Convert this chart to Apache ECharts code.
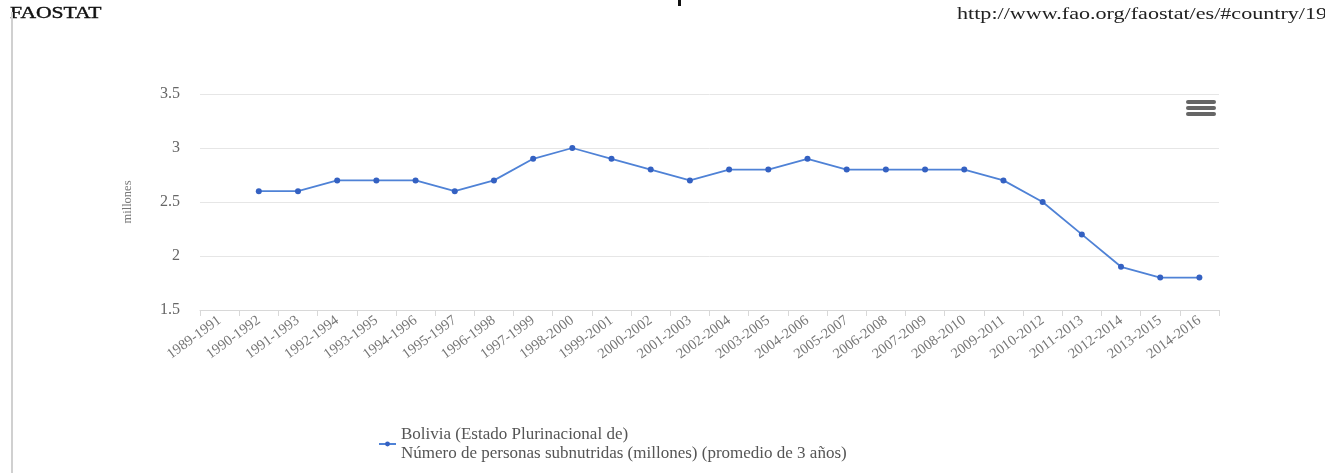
<!DOCTYPE html>
<html>
<head>
<meta charset="utf-8">
<script src="https://cdn.jsdelivr.net/npm/echarts@6/dist/echarts.min.js"></script>
<style>html,body{margin:0;padding:0;background:#fff;}#c{width:1325px;height:473px;}</style>
</head>
<body>
<div id="c"></div>
<script>
const categories = ['1989-1991','1990-1992','1991-1993','1992-1994','1993-1995','1994-1996','1995-1997','1996-1998','1997-1999','1998-2000','1999-2001','2000-2002','2001-2003','2002-2004','2003-2005','2004-2006','2005-2007','2006-2008','2007-2009','2008-2010','2009-2011','2010-2012','2011-2013','2012-2014','2013-2015','2014-2016'];
const values = [null,2.6,2.6,2.7,2.7,2.7,2.6,2.7,2.9,3.0,2.9,2.8,2.7,2.8,2.8,2.9,2.8,2.8,2.8,2.8,2.7,2.5,2.2,1.9,1.8,1.8];
const seriesName = 'Bolivia (Estado Plurinacional de)\nNúmero de personas subnutridas (millones) (promedio de 3 años)';
const yTicks = {min:1.5, max:3.5, interval:0.5};
const yName = 'millones';
const headerLeft = 'FAOSTAT';
const headerRight = 'http://www.fao.org/faostat/es/#country/19';

const serif = '"Liberation Serif", "DejaVu Serif", serif';
const chart = echarts.init(document.getElementById('c'), null, {renderer:'canvas'});
chart.setOption({
  backgroundColor:'#fff',
  animation:false,
  textStyle:{fontFamily:serif},
  grid:{left:200, right:106, top:94, bottom:163, containLabel:false},
  legend:{
    left:373, top:420, orient:'vertical',
    itemWidth:17, itemHeight:6, itemGap:0,
    textStyle:{fontFamily:serif, fontSize:17, color:'#555', lineHeight:19},
    data:[{name:seriesName}]
  },
  graphic:[
    {type:'text', x:10, y:6, scaleX:1.35, style:{text:headerLeft, font:'16px '+serif, fill:'#111', stroke:'#111', lineWidth:0.4}},
    {type:'text', x:957, y:6, scaleX:1.3, style:{text:headerRight, font:'17px '+serif, fill:'#222'}},
    {type:'rect', left:11, top:12, shape:{width:2, height:461}, style:{fill:'#d0d0d0'}},
    {type:'rect', left:678, top:0, shape:{width:3, height:6}, style:{fill:'#111'}},
    {type:'rect', left:1186, top:100, shape:{width:30, height:4, r:2}, style:{fill:'#666'}},
    {type:'rect', left:1186, top:106, shape:{width:30, height:4, r:2}, style:{fill:'#666'}},
    {type:'rect', left:1186, top:112, shape:{width:30, height:4, r:2}, style:{fill:'#666'}}
  ],
  xAxis:{
    type:'category', data:categories, boundaryGap:true,
    axisLine:{lineStyle:{color:'#d8d8d8', width:1}},
    axisTick:{show:true, length:6, lineStyle:{color:'#d8d8d8'}, alignWithLabel:false},
    axisLabel:{rotate:36, interval:0, fontFamily:serif, fontSize:14.5, color:'#777', margin:9}
  },
  yAxis:{
    type:'value', min:yTicks.min, max:yTicks.max, interval:yTicks.interval,
    name:yName, nameLocation:'middle', nameGap:66, nameRotate:90,
    nameTextStyle:{fontFamily:serif, fontSize:12.5, color:'#777'},
    axisLine:{show:false}, axisTick:{show:false},
    axisLabel:{fontFamily:serif, fontSize:16, color:'#666', margin:20},
    splitLine:{lineStyle:{color:'#e6e6e6', width:1}}
  },
  series:[{
    name:seriesName, type:'line', data:values,
    symbol:'circle', symbolSize:6,
    lineStyle:{color:'#4f82d6', width:1.8},
    itemStyle:{color:'#3461c2'}
  }]
});
</script>
</body>
</html>
